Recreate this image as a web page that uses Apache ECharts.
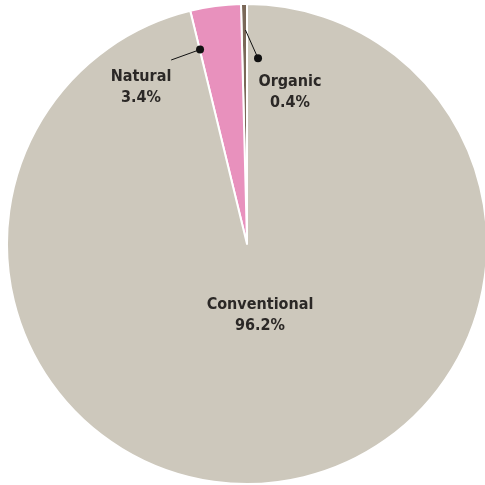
<!DOCTYPE html>
<html>
<head>
<meta charset="utf-8">
<style>
  html, body { margin: 0; padding: 0; background: #ffffff; }
  #chart { width: 485px; height: 485px; }
</style>
<script src="https://cdn.jsdelivr.net/npm/echarts@6/dist/echarts.min.js"></script>
</head>
<body>
<div id="chart"></div>
<script>
// Market share by product type (%)
const categories = ['Organic', 'Natural', 'Conventional'];
const shares = [0.4, 3.4, 96.2];
const sliceColors = ['#7a6858', '#e891bd', '#cdc8bc'];

const CX = 247, CY = 244, R = 240;
const total = shares.reduce((a, b) => a + b, 0);

// Angles measured counter-clockwise from 12 o'clock, in degrees
const starts = [];
let acc = 0;
shares.forEach(v => { starts.push(acc / total * 360); acc += v; });
const ends = shares.map((v, i) => starts[i] + v / total * 360);

function pt(angleDeg, r) {
  const a = angleDeg * Math.PI / 180;
  return [CX - r * Math.sin(a), CY - r * Math.cos(a)];
}

// Leader lines for the two small slices; `dot` marks which end carries the dot
const leaders = [
  { from: pt((starts[0] + ends[0]) / 2 - 0.3, 214), to: pt(-3.4, 186), dot: 'to' },
  { from: pt(ends[1] - 0.1, 200), to: pt(22.4, 199), dot: 'from' }
];

const chart = echarts.init(document.getElementById('chart'), null, { renderer: 'canvas' });

const leaderGraphics = [];
leaders.forEach(l => {
  leaderGraphics.push({
    type: 'line',
    shape: { x1: l.from[0], y1: l.from[1], x2: l.to[0], y2: l.to[1] },
    style: { stroke: '#111111', lineWidth: 1 },
    z: 100
  });
  const p = l.dot === 'to' ? l.to : l.from;
  leaderGraphics.push({
    type: 'circle',
    shape: { cx: p[0], cy: p[1], r: 4 },
    style: { fill: '#111111' },
    z: 101
  });
});

const labelFont = {
  fontFamily: '"DejaVu Sans Condensed", sans-serif',
  fontWeight: 'bold',
  fontSize: 16,
  lineHeight: 21,
  color: '#2b2826'
};

chart.setOption({
  animation: false,
  backgroundColor: '#ffffff',
  graphic: leaderGraphics,
  series: [{
    type: 'pie',
    center: [CX, CY],
    radius: R,
    startAngle: 90,
    clockwise: false,
    avoidLabelOverlap: false,
    itemStyle: { borderColor: '#ffffff', borderWidth: 2 },
    label: Object.assign({
      show: true,
      position: 'outside',
      align: 'center',
      verticalAlign: 'middle',
      formatter: p => p.name + '\n' + shares[p.dataIndex].toFixed(1) + '%'
    }, labelFont),
    labelLine: { show: false },
    labelLayout: params => {
      const i = params.dataIndex;
      const pos = [[290, 92], [141, 87], [260, 315]][i];
      return { x: pos[0], y: pos[1], align: 'center', verticalAlign: 'middle' };
    },
    data: categories.map((c, i) => ({
      name: c,
      value: shares[i],
      itemStyle: { color: sliceColors[i] }
    }))
  }]
});
</script>
</body>
</html>
